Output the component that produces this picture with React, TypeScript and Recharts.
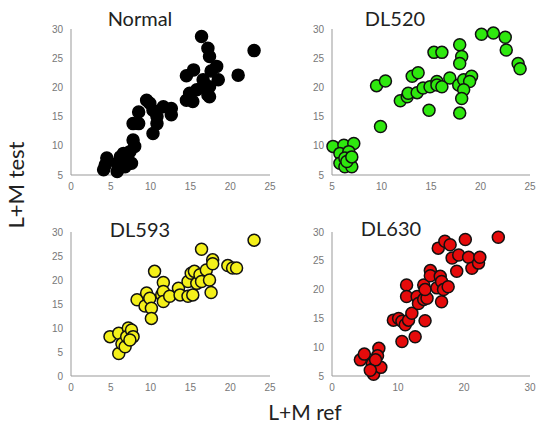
import { ScatterChart, Scatter, XAxis, YAxis } from 'recharts';

// values (L+M ref on x, L+M test on y)
const normalRef = [16.4, 23.0, 17.2, 17.4, 18.3, 17.6, 21.0, 14.5, 15.4, 16.6, 18.5, 16.6, 17.4, 15.8, 14.9, 14.5, 15.3, 17.2, 17.4, 9.5, 9.9, 10.3, 11.6, 12.6, 12.6, 8.5, 10.8, 10.8, 7.8, 8.5, 10.3, 7.8, 8.0, 7.4, 6.6, 6.2, 7.0, 7.6, 5.8, 6.0, 4.5, 4.3, 4.1, 5.8, 6.8, 6.4];
const normalTest = [28.7, 26.3, 26.7, 25.3, 23.6, 22.8, 22.1, 22.0, 23.0, 21.3, 21.3, 20.1, 20.1, 19.6, 19.0, 17.8, 17.6, 18.7, 18.4, 17.8, 17.3, 16.1, 16.7, 16.4, 15.3, 15.8, 15.0, 13.8, 13.8, 13.8, 12.1, 11.0, 9.9, 9.0, 8.7, 8.1, 7.9, 7.0, 7.0, 6.1, 7.9, 6.7, 5.9, 5.6, 6.4, 7.6];

const dl520Ref = [5.1, 6.2, 7.2, 5.8, 6.7, 5.8, 6.3, 6.3, 7.0, 6.5, 7.0, 9.9, 9.5, 10.4, 11.9, 12.6, 12.7, 13.6, 14.2, 13.1, 13.7, 14.9, 15.6, 15.6, 16.1, 16.9, 14.8, 15.3, 16.1, 17.9, 18.1, 17.9, 17.8, 18.3, 19.1, 18.9, 18.3, 18.1, 17.9, 20.1, 21.3, 22.5, 22.6, 23.8, 24.0];
const dl520Test = [9.9, 10.1, 10.4, 8.7, 9.0, 7.0, 7.9, 6.4, 6.4, 7.3, 8.1, 13.3, 20.3, 21.1, 17.7, 18.4, 19.0, 19.1, 19.9, 21.9, 22.5, 20.1, 21.0, 20.4, 20.1, 21.6, 16.1, 26.0, 26.0, 27.3, 25.3, 24.1, 20.4, 21.3, 21.9, 21.0, 19.6, 18.1, 15.6, 29.1, 29.3, 28.6, 26.4, 24.1, 23.2];

const dl593Ref = [4.9, 6.0, 6.0, 6.4, 6.8, 7.2, 7.0, 7.6, 7.8, 7.4, 8.3, 9.3, 9.5, 9.9, 10.1, 10.1, 10.5, 11.4, 11.6, 11.6, 11.6, 12.4, 13.5, 13.7, 14.7, 14.7, 15.1, 15.5, 15.3, 15.8, 16.2, 16.4, 16.4, 17.0, 17.4, 17.6, 17.8, 17.8, 19.7, 20.3, 20.8, 23.0];
const dl593Test = [8.2, 8.9, 4.7, 6.7, 6.1, 10.0, 8.2, 9.6, 8.2, 7.5, 15.9, 14.6, 17.3, 16.2, 14.1, 12.0, 21.8, 16.9, 19.5, 17.6, 15.5, 16.6, 18.3, 16.9, 16.6, 19.7, 21.4, 21.8, 16.9, 19.3, 21.1, 26.4, 19.7, 22.1, 20.0, 17.4, 24.2, 23.4, 23.0, 22.5, 22.5, 28.3];

const dl630Ref = [4.3, 4.9, 6.1, 6.3, 6.3, 7.1, 6.9, 7.4, 6.6, 5.8, 9.3, 10.1, 10.6, 11.1, 10.6, 11.3, 11.3, 11.6, 12.1, 12.6, 12.9, 13.1, 13.9, 13.9, 14.1, 14.4, 14.9, 14.9, 14.1, 15.9, 16.1, 16.4, 16.6, 16.6, 16.9, 17.1, 17.6, 17.9, 18.2, 18.9, 19.2, 20.2, 20.7, 21.2, 22.2, 22.4, 25.2];
const dl630Test = [7.8, 8.8, 7.1, 6.3, 5.3, 9.8, 8.5, 6.5, 7.8, 6.0, 14.7, 15.0, 14.5, 13.9, 11.0, 20.8, 18.8, 14.7, 15.9, 11.8, 18.8, 17.6, 18.3, 20.8, 14.6, 18.5, 23.3, 22.4, 20.0, 20.3, 27.2, 22.3, 21.4, 17.9, 20.0, 28.4, 20.5, 27.8, 25.5, 23.2, 26.0, 28.7, 25.6, 23.7, 24.6, 25.6, 29.1];

const tickStyle = { fill: '#777', fontSize: 10, fontFamily: 'Liberation Sans, Arial, sans-serif' };
const YW = 30;
const TOP = 10;
const XH = 24;
const RIGHT = 12;

interface PanelProps {
  xs: number[];
  ys: number[];
  fill: string;
  stroke: string;
  r: number;
  left: number;
  top: number;
  w: number;
  h: number;
  xDomain: [number, number];
  xTicks: number[];
  yDomain: [number, number];
  yTicks: number[];
}

function Panel({ xs, ys, fill, stroke, r, left, top, w, h, xDomain, xTicks, yDomain, yTicks }: PanelProps) {
  const data = xs.map((x, i) => ({ x, y: ys[i] }));
  return (
    <div style={{ position: 'absolute', left: left - YW, top: top - TOP }}>
      <ScatterChart
        width={w + YW + RIGHT}
        height={h + TOP + XH}
        margin={{ top: TOP, right: RIGHT, bottom: 0, left: 0 }}
      >
        <XAxis
          type="number"
          dataKey="x"
          domain={xDomain}
          ticks={xTicks}
          height={XH}
          tickLine={false}
          tick={tickStyle}
          axisLine={{ stroke: '#999' }}
        />
        <YAxis
          type="number"
          dataKey="y"
          domain={yDomain}
          ticks={yTicks}
          width={YW}
          tickLine={false}
          tick={tickStyle}
          axisLine={{ stroke: '#999' }}
        />
        <Scatter
          data={data}
          isAnimationActive={false}
          shape={(p: any) => (
            <circle cx={p.cx} cy={p.cy} r={r} fill={fill} stroke={stroke} strokeWidth={1.5} />
          )}
        />
      </ScatterChart>
    </div>
  );
}

const labelFont = 'Lato, "Open Sans", sans-serif';

export default function App() {
  return (
    <div style={{ position: 'absolute', left: 0, top: 0, width: 536, height: 427, background: '#fff' }}>
      <Panel xs={normalRef} ys={normalTest} fill="#000" stroke="#000" r={6} left={71} top={29} w={199} h={146}
        xDomain={[0, 25]} xTicks={[0, 5, 10, 15, 20, 25]} yDomain={[5, 30]} yTicks={[5, 10, 15, 20, 25, 30]} />
      <Panel xs={dl520Ref} ys={dl520Test} fill="#2ee80e" stroke="#111" r={6} left={332} top={29} w={198} h={146}
        xDomain={[5, 25]} xTicks={[5, 10, 15, 20, 25]} yDomain={[5, 30]} yTicks={[5, 10, 15, 20, 25, 30]} />
      <Panel xs={dl593Ref} ys={dl593Test} fill="#f4f01a" stroke="#111" r={6} left={71} top={232} w={199} h={144}
        xDomain={[0, 25]} xTicks={[0, 5, 10, 15, 20, 25]} yDomain={[0, 30]} yTicks={[0, 5, 10, 15, 20, 25, 30]} />
      <Panel xs={dl630Ref} ys={dl630Test} fill="#e50b0b" stroke="#111" r={6} left={332} top={232} w={198} h={144}
        xDomain={[0, 30]} xTicks={[0, 10, 20, 30]} yDomain={[5, 30]} yTicks={[5, 10, 15, 20, 25, 30]} />
      <svg width={536} height={427} style={{ position: 'absolute', left: 0, top: 0, pointerEvents: 'none' }}>
        <g fontFamily={labelFont} fill="#222">
          <text x={140} y={26} fontSize={20} textAnchor="middle">Normal</text>
          <text x={395} y={26} fontSize={20} textAnchor="middle">DL520</text>
          <text x={140} y={237} fontSize={20} textAnchor="middle">DL593</text>
          <text x={391} y={236} fontSize={20} textAnchor="middle">DL630</text>
          <text x={305} y={420} fontSize={21} textAnchor="middle">L+M ref</text>
          <text transform="translate(24,185) rotate(-90)" fontSize={22} textAnchor="middle">L+M test</text>
        </g>
      </svg>
    </div>
  );
}
